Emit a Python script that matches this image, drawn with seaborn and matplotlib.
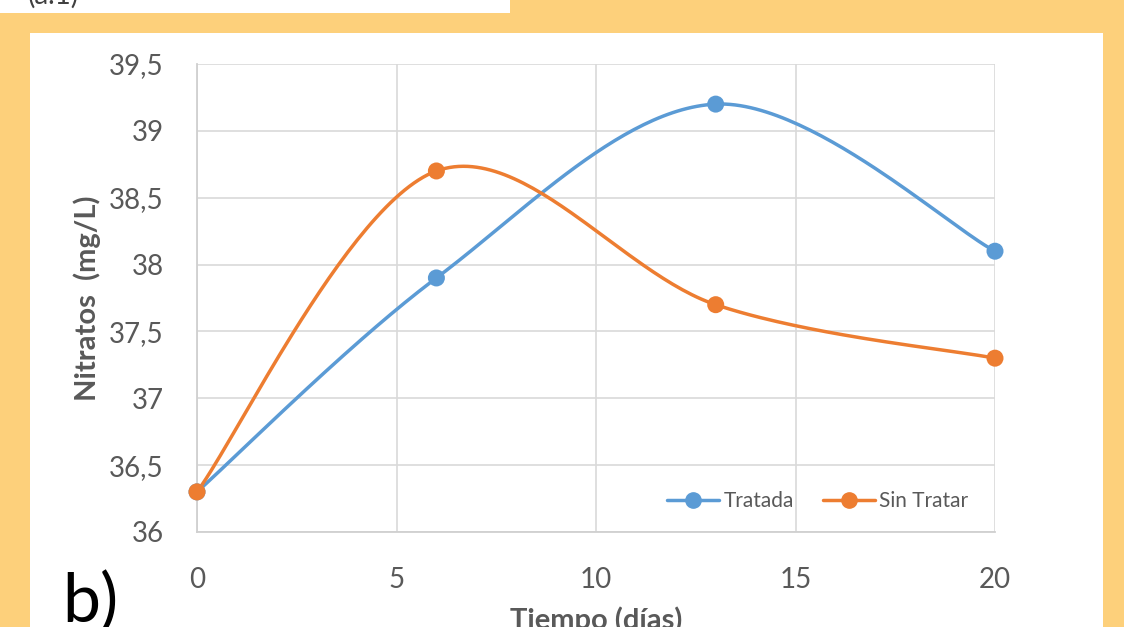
import numpy as np
import pandas as pd
import seaborn as sns
import matplotlib.pyplot as plt
from matplotlib.patches import Rectangle
from matplotlib.lines import Line2D

# data
dias = [0, 6, 13, 20]
tratada = [36.3, 37.9, 39.2, 38.1]
sin_tratar = [36.3, 38.7, 37.7, 37.3]
series_names = ["Tratada", "Sin Tratar"]
colors = ["#5B9BD5", "#ED7D31"]
y_ticks = [36, 36.5, 37, 37.5, 38, 38.5, 39, 39.5]
x_ticks = [0, 5, 10, 15, 20]

sns.set_style("white")
plt.rcParams['font.family'] = ['Lato', 'DejaVu Sans']

W, H = 1124, 627
fig = plt.figure(figsize=(W / 100, H / 100), dpi=100)
fig.patch.set_facecolor("#FDD07B")

def px_rect(x0, y0, x1, y1, color):
    fig.patches.append(Rectangle((x0 / W, 1 - y1 / H), (x1 - x0) / W, (y1 - y0) / H,
                                 transform=fig.transFigure, facecolor=color,
                                 edgecolor="none", zorder=-10))

px_rect(30, 33, 1103, 640, "white")
px_rect(0, -5, 510, 13, "white")
fig.text(28 / W, 1 - 4 / H, "(a.1)", fontsize=20, color="#404040", va="baseline")

ax = fig.add_axes([197 / W, 1 - 532 / H, (995 - 197) / W, (532 - 64) / H])
ax.set_facecolor("white")


def excel_smooth(x, y, n=60):
    # Excel style smoothed line: cubic bezier with control points from neighbours
    p = np.column_stack([x, y]).astype(float)
    pts = [p[0]] + list(p) + [p[-1]]
    out = []
    for i in range(1, len(pts) - 2):
        p0, p1, p2, p3 = pts[i - 1], pts[i], pts[i + 1], pts[i + 2]
        c1 = p1 + (p2 - p0) / 6
        c2 = p2 - (p3 - p1) / 6
        t = np.linspace(0, 1, n)[:, None]
        seg = (1 - t) ** 3 * p1 + 3 * (1 - t) ** 2 * t * c1 + 3 * (1 - t) * t ** 2 * c2 + t ** 3 * p2
        out.append(seg)
    out = np.vstack(out)
    return out[:, 0], out[:, 1]


df = pd.DataFrame({"dias": dias * 2, "valor": tratada + sin_tratar,
                   "serie": [series_names[0]] * 4 + [series_names[1]] * 4})

for name, c in zip(series_names, colors):
    sub = df[df["serie"] == name]
    sx, sy = excel_smooth(sub["dias"].values, sub["valor"].values)
    ax.plot(sx, sy, color=c, lw=2.5, zorder=3, solid_capstyle="round")

sns.scatterplot(data=df, x="dias", y="valor", hue="serie", palette=colors,
                s=150, edgecolor="none", legend=False, zorder=4, ax=ax, clip_on=False)

ax.set_xlim(0, 20)
ax.set_ylim(36, 39.5)
ax.set_xticks(x_ticks)
ax.set_yticks(y_ticks)
ax.set_yticklabels([str(v).replace(".", ",") if v % 1 else str(int(v)) for v in y_ticks])
ax.grid(True, color="#D9D9D9", lw=1.2)
ax.set_axisbelow(True)
for s in ["top", "right"]:
    ax.spines[s].set_visible(False)
ax.spines["left"].set_color("#D0D0D0")
ax.spines["bottom"].set_color("#D0D0D0")
ax.spines["left"].set_linewidth(1.3)
ax.spines["bottom"].set_linewidth(1.3)
ax.tick_params(axis="x", length=7, width=1.2, color="#D0D0D0", direction="out",
               pad=18, labelsize=20, labelcolor="#595959")
ax.tick_params(axis="y", length=0, pad=24, labelsize=20, labelcolor="#595959")

ax.set_xlabel("Tiempo (días)", fontsize=21, fontweight="bold", color="#595959", labelpad=10)
ax.set_ylabel("Nitratos  (mg/L)", fontsize=21, fontweight="bold", color="#595959", labelpad=6)

handles = [Line2D([0], [0], color=c, lw=2.5, marker="o", markersize=11) for c in colors]
ax.legend(handles, series_names, loc="lower right", bbox_to_anchor=(0.99, 0.005),
          ncol=2, frameon=False, fontsize=15, labelcolor="#595959",
          handlelength=2.5, handletextpad=0.2, columnspacing=1.4)

fig.text(62 / W, 1 - 622 / H, "b)", fontsize=49, color="black", va="baseline")

fig.savefig("out.png", dpi=100, facecolor=fig.get_facecolor())
